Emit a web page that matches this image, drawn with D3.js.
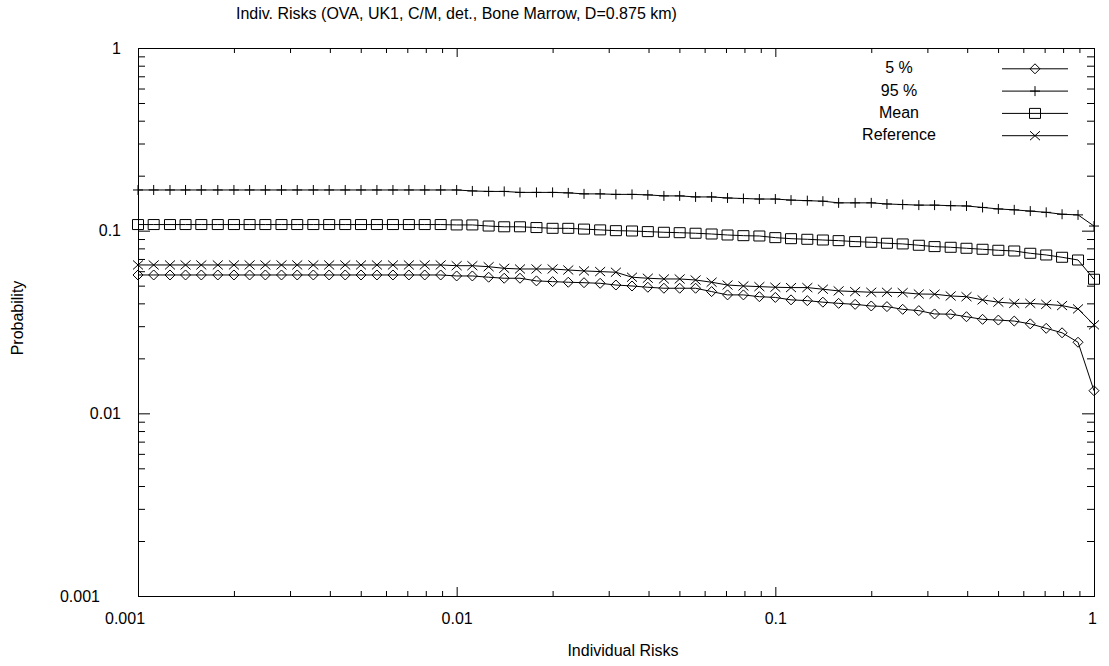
<!DOCTYPE html>
<html><head><meta charset="utf-8">
<script src="https://cdn.jsdelivr.net/npm/d3@7"></script>
<style>body{margin:0;background:#fff} text{font-family:"Liberation Sans",Arial,sans-serif;fill:#000}</style>
</head><body><svg id="c" width="1109" height="666"></svg>
<script>
const chartTitle = "Indiv. Risks (OVA, UK1, C/M, det., Bone Marrow, D=0.875 km)";
const xTitle = "Individual Risks";
const yTitle = "Probability";
const xTickValues = [0.001, 0.01, 0.1, 1];
const xTickLabels = ["0.001", "0.01", "0.1", "1"];
const yTickValues = [0.001, 0.01, 0.1, 1];
const yTickLabels = ["0.001", "0.01", "0.1", "1"];
const seriesNames = ["5 %", "95 %", "Mean", "Reference"];

const riskLevels = [0.001, 0.00112, 0.00126, 0.00141, 0.00158, 0.00178, 0.002, 0.00224, 0.00251, 0.00282,
  0.00316, 0.00355, 0.00398, 0.00447, 0.00501, 0.00562, 0.00631, 0.00708, 0.00794, 0.00891,
  0.01, 0.0112, 0.0126, 0.0141, 0.0158, 0.0178, 0.02, 0.0224, 0.0251, 0.0282,
  0.0316, 0.0355, 0.0398, 0.0447, 0.0501, 0.0562, 0.0631, 0.0708, 0.0794, 0.0891,
  0.1, 0.112, 0.126, 0.141, 0.158, 0.178, 0.2, 0.224, 0.251, 0.282,
  0.316, 0.355, 0.398, 0.447, 0.501, 0.562, 0.631, 0.708, 0.794, 0.891, 1];

const p05 = [0.0572, 0.0572, 0.0572, 0.0572, 0.0572, 0.0572, 0.0572, 0.0572, 0.0572, 0.0572,
  0.0572, 0.0572, 0.0572, 0.0572, 0.0572, 0.0572, 0.0572, 0.0572, 0.0572, 0.0572,
  0.0565, 0.0565, 0.0556, 0.0549, 0.0549, 0.0531, 0.0526, 0.0522, 0.0519, 0.0515,
  0.0504, 0.0498, 0.0490, 0.0484, 0.0484, 0.0484, 0.0464, 0.0445, 0.0445, 0.0435,
  0.0431, 0.0418, 0.0414, 0.0406, 0.0400, 0.0395, 0.0387, 0.0384, 0.0371, 0.0365,
  0.0350, 0.0349, 0.0338, 0.0327, 0.0324, 0.0320, 0.0309, 0.0292, 0.0276, 0.0245, 0.0133];

const p95 = [0.167, 0.167, 0.167, 0.167, 0.167, 0.167, 0.167, 0.167, 0.167, 0.167,
  0.167, 0.167, 0.167, 0.167, 0.167, 0.167, 0.167, 0.167, 0.167, 0.167,
  0.167, 0.165, 0.164, 0.164, 0.162, 0.162, 0.162, 0.161, 0.159, 0.159,
  0.158, 0.158, 0.157, 0.155, 0.155, 0.153, 0.153, 0.151, 0.150, 0.149,
  0.149, 0.147, 0.146, 0.145, 0.142, 0.142, 0.142, 0.140, 0.139, 0.138,
  0.138, 0.137, 0.1365, 0.134, 0.1315, 0.130, 0.128, 0.126, 0.123, 0.122, 0.106];

const meanVals = [0.108, 0.108, 0.108, 0.108, 0.108, 0.108, 0.108, 0.108, 0.108, 0.108,
  0.108, 0.108, 0.108, 0.108, 0.108, 0.108, 0.108, 0.108, 0.108, 0.108,
  0.1075, 0.1075, 0.106, 0.105, 0.105, 0.104, 0.103, 0.103, 0.102, 0.101,
  0.100, 0.0996, 0.0988, 0.098, 0.0975, 0.0968, 0.0959, 0.0947, 0.0939, 0.0935,
  0.0916, 0.0904, 0.0897, 0.0889, 0.0882, 0.0871, 0.0864, 0.0853, 0.0846, 0.0832,
  0.0818, 0.0811, 0.0801, 0.0791, 0.0781, 0.0774, 0.0752, 0.0736, 0.0715, 0.0691, 0.0542];

const referenceVals = [0.0649, 0.0649, 0.0649, 0.0649, 0.0649, 0.0649, 0.0649, 0.0649, 0.0649, 0.0649,
  0.0649, 0.0649, 0.0649, 0.0649, 0.0649, 0.0649, 0.0649, 0.0649, 0.0649, 0.0649,
  0.0643, 0.0643, 0.0635, 0.0622, 0.0617, 0.0617, 0.0617, 0.0609, 0.0602, 0.0597,
  0.0592, 0.0556, 0.0549, 0.0544, 0.0544, 0.0537, 0.0522, 0.0504, 0.0498, 0.0494,
  0.0490, 0.0488, 0.0488, 0.0478, 0.0468, 0.0464, 0.0460, 0.0460, 0.0458, 0.0450,
  0.0449, 0.0439, 0.0435, 0.0418, 0.0406, 0.0400, 0.0400, 0.0395, 0.0389, 0.0373, 0.0305];

const L = 138, R = 1094, T = 48, B = 596;
const svg = d3.select("#c");
const x = d3.scaleLog().domain([0.001, 1]).range([L, R]);
const y = d3.scaleLog().domain([0.001, 1]).range([B, T]);

const minorX = [], minorY = [];
[0.001, 0.01, 0.1].forEach(d => { for (let m = 2; m <= 9; m++) { minorX.push(d * m); minorY.push(d * m); } });

const fs = 16;
// minor ticks
svg.append("g").attr("transform", `translate(0,${B})`).call(d3.axisBottom(x).tickValues(minorX).tickSize(-5).tickFormat(""));
svg.append("g").attr("transform", `translate(0,${T})`).call(d3.axisTop(x).tickValues(minorX).tickSize(-5).tickFormat(""));
svg.append("g").attr("transform", `translate(${L},0)`).call(d3.axisLeft(y).tickValues(minorY).tickSize(-7).tickFormat(""));
svg.append("g").attr("transform", `translate(${R},0)`).call(d3.axisRight(y).tickValues(minorY).tickSize(-7).tickFormat(""));
// major ticks
svg.append("g").attr("transform", `translate(0,${T})`).call(d3.axisTop(x).tickValues(xTickValues).tickSize(-9).tickFormat(""));
svg.append("g").attr("transform", `translate(${R},0)`).call(d3.axisRight(y).tickValues(yTickValues).tickSize(-12).tickFormat(""));
const gx = svg.append("g").attr("transform", `translate(0,${B})`)
  .call(d3.axisBottom(x).tickValues(xTickValues).tickSize(-9).tickPadding(17).tickFormat((d, i) => xTickLabels[i]));
const gy = svg.append("g").attr("transform", `translate(${L},0)`)
  .call(d3.axisLeft(y).tickValues(yTickValues).tickSize(-12).tickPadding(17).tickFormat((d, i) => yTickLabels[i]));
svg.selectAll(".domain").remove();
svg.selectAll(".tick line").attr("stroke", "#000");
svg.selectAll(".tick text").attr("font-size", fs).attr("font-family", '"Liberation Sans",Arial,sans-serif').attr("fill", "#000");
gx.selectAll(".tick text").attr("dx", (d, i) => i === 0 ? -13.5 : (i === xTickValues.length - 1 ? -2 : 0));
gy.selectAll(".tick text").attr("dx", (d, i) => i === 0 ? -21 : 0);

// frame
svg.append("rect").attr("x", L + 0.5).attr("y", T + 0.5).attr("width", R - L).attr("height", B - T)
  .attr("fill", "none").attr("stroke", "#000").attr("stroke-width", 1);

// titles
svg.append("text").attr("x", 236).attr("y", 19).attr("font-size", fs).text(chartTitle);
svg.append("text").attr("x", 623).attr("y", 656).attr("text-anchor", "middle").attr("font-size", fs).text(xTitle);
svg.append("text").attr("transform", "translate(23,318) rotate(-90)").attr("text-anchor", "middle").attr("font-size", fs).text(yTitle);

const symbols = {
  diamond: "M0,-5L5,0L0,5L-5,0Z",
  plus: "M-5,0H5M0,-5V5",
  square: "M-5.5,-5H5.5V5H-5.5Z",
  cross: "M-5,-4.5L5,4.5M-5,4.5L5,-4.5"
};
const series = [
  { name: seriesNames[0], values: p05, sym: symbols.diamond },
  { name: seriesNames[1], values: p95, sym: symbols.plus },
  { name: seriesNames[2], values: meanVals, sym: symbols.square },
  { name: seriesNames[3], values: referenceVals, sym: symbols.cross }
];
const line = d3.line().x((d, i) => x(riskLevels[i])).y(d => y(d));
series.forEach(s => {
  const g = svg.append("g");
  g.append("path").attr("d", line(s.values)).attr("fill", "none").attr("stroke", "#000").attr("stroke-width", 1);
  g.selectAll("path.m").data(s.values).enter().append("path").attr("class", "m")
    .attr("transform", (d, i) => `translate(${x(riskLevels[i])},${y(d)})`)
    .attr("d", s.sym).attr("fill", "none").attr("stroke", "#000").attr("stroke-width", 1);
});

// legend
const leg = svg.append("g");
series.forEach((s, i) => {
  const by = 73.3 + i * 22.3;
  leg.append("text").attr("x", 899).attr("y", by).attr("text-anchor", "middle").attr("font-size", fs).text(s.name);
  leg.append("line").attr("x1", 1002).attr("x2", 1068).attr("y1", by - 4.5).attr("y2", by - 4.5).attr("stroke", "#000");
  leg.append("path").attr("transform", `translate(1035,${by - 4.5})`).attr("d", s.sym).attr("fill", "none").attr("stroke", "#000");
});
</script></body></html>
